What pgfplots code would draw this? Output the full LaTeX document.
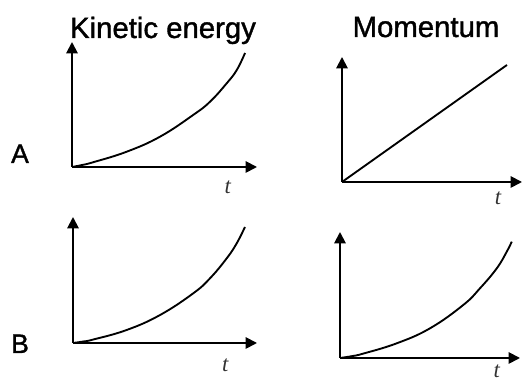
\documentclass[border=0pt]{standalone}
\usepackage{pgfplots}
\pgfplotsset{compat=1.18}
\usetikzlibrary{arrows.meta}
\usepackage{fontspec}
\setmainfont{Liberation Sans}
\newfontfamily\heavy[FakeBold=1.3]{Liberation Sans}
\newfontfamily\tfont{Liberation Serif}

\pgfplotsset{
  sketch/.style={
    scale only axis, axis lines=left, xmin=0, ymin=0,
    xtick=\empty, ytick=\empty, clip=false, anchor=origin,
    axis line style={line width=1.4pt, -{Triangle[width=8.5pt,length=8.5pt]}},
  },
  curve/.style={black, line width=1.4pt, smooth, tension=0.7, no marks},
}
\newcommand{\tlab}[2]{\node[inner sep=0pt, font=\tfont\itshape\fontsize{17}{17}\selectfont, text=black!80] at (axis cs:#1,#2) {t};}
\tikzset{lab/.style={anchor=base, text=black, font=\heavy\fontsize{#1}{#1}\selectfont}}

\begin{document}
\begin{tikzpicture}
\useasboundingbox (0,0) rectangle (391.5pt,285.75pt);

% A: kinetic energy
\begin{axis}[sketch, at={(54pt,160.5pt)}, width=138.75pt, height=93.75pt, xmax=1.069, ymax=1.096]
\addplot[curve] coordinates {(0,0) (0.06,0.018) (0.123,0.042) (0.316,0.134) (0.509,0.266) (0.70,0.456) (0.798,0.573) (0.894,0.734) (0.952,0.85) (1,1)};
\tlab{0.90}{-0.18}
\end{axis}

% A: momentum
\begin{axis}[sketch, at={(256.5pt,149.25pt)}, width=135pt, height=93.75pt, xmax=1.091, ymax=1.068]
\addplot[black, line width=1.4pt, no marks] coordinates {(0,0) (1,1)};
\tlab{0.945}{-0.14}
\end{axis}

% B: kinetic energy
\begin{axis}[sketch, at={(54.75pt,28.5pt)}, width=138pt, height=94.5pt, xmax=1.07, ymax=1.086]
\addplot[curve] coordinates {(0,0) (0.06,0.013) (0.118,0.030) (0.312,0.112) (0.506,0.241) (0.699,0.428) (0.797,0.558) (0.894,0.73) (0.952,0.859) (1,1)};
\tlab{0.885}{-0.19}
\end{axis}

% B: momentum
\begin{axis}[sketch, at={(255pt,17.25pt)}, width=135pt, height=94.5pt, xmax=1.048, ymax=1.083]
\addplot[curve] coordinates {(0,0) (0.07,0.016) (0.136,0.038) (0.33,0.126) (0.524,0.255) (0.718,0.456) (0.815,0.599) (0.913,0.771) (0.971,0.914) (1,1)};
\tlab{0.913}{-0.11}
\end{axis}

\node[lab=22] at (122.25pt,257.25pt) {Kinetic energy};
\node[lab=22] at (319.5pt,258pt) {Momentum};
\node[lab=20] at (15pt,163.5pt) {A};
\node[lab=20] at (15pt,21pt) {B};
\end{tikzpicture}
\end{document}
